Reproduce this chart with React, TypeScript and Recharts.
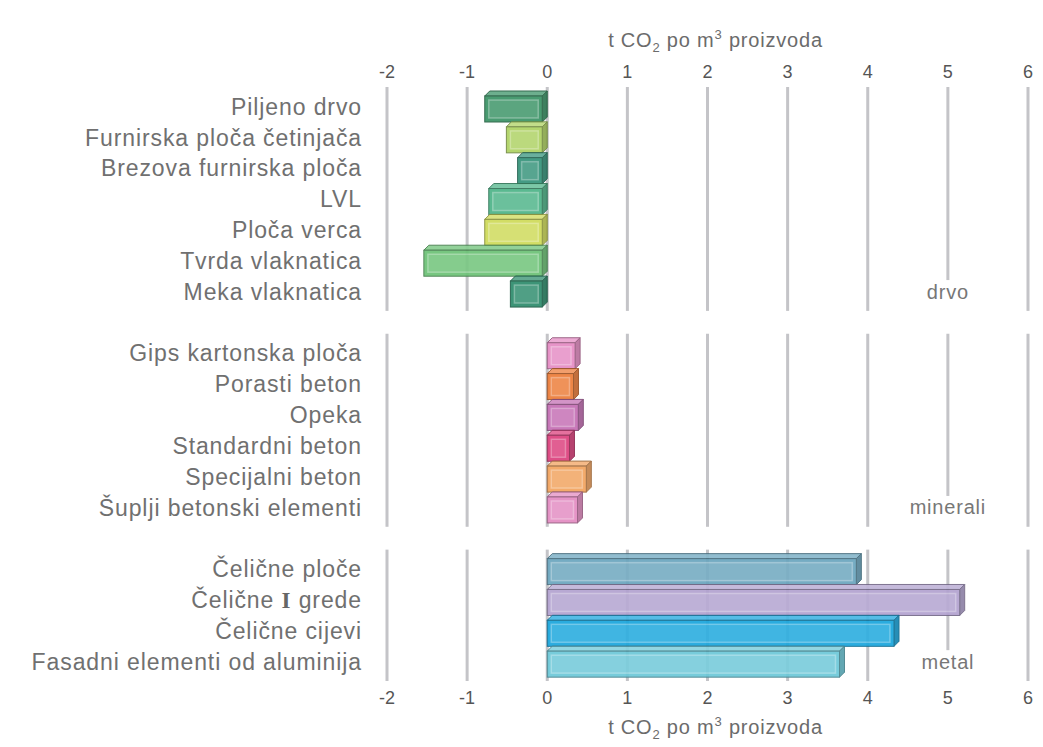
import React from "react";
import {
  ComposedChart,
  Bar,
  Line,
  XAxis,
  YAxis,
  Cell,
  Label,
  ReferenceArea,
} from "recharts";

// t CO2 po m3 proizvoda
const woodNames = [
  "Piljeno drvo",
  "Furnirska ploča četinjača",
  "Brezova furnirska ploča",
  "LVL",
  "Ploča verca",
  "Tvrda vlaknatica",
  "Meka vlaknatica",
];
const woodValues = [-0.78, -0.51, -0.37, -0.73, -0.78, -1.54, -0.46];

const mineralNames = [
  "Gips kartonska ploča",
  "Porasti beton",
  "Opeka",
  "Standardni beton",
  "Specijalni beton",
  "Šuplji betonski elementi",
];
const mineralValues = [0.41, 0.39, 0.45, 0.34, 0.55, 0.44];

const metalNames = [
  "Čelične ploče",
  "Čelične I grede",
  "Čelične cijevi",
  "Fasadni elementi od aluminija",
];
const metalValues = [3.92, 5.21, 4.39, 3.71];

const groupLabels = ["drvo", "minerali", "metal"];
const xTicks = [-2, -1, 0, 1, 2, 3, 4, 5, 6];
const labelTick = 5;

const woodColors = ["#3a9366", "#aed262", "#35937a", "#4db488", "#cfdb58", "#6cc276", "#2d8c6c"];
const mineralColors = ["#e68cc4", "#ec7c38", "#c46eb4", "#dc3f7c", "#f2a35e", "#e38cc2"];
const metalColors = ["#6aa5be", "#b2a2d0", "#19a6dd", "#6cc8d8"];

const groups = [
  { label: groupLabels[0], names: woodNames, values: woodValues, colors: woodColors },
  { label: groupLabels[1], names: mineralNames, values: mineralValues, colors: mineralColors },
  { label: groupLabels[2], names: metalNames, values: metalValues, colors: metalColors },
];

const rows: { name: string; value: number | null; color: string }[] = [];
groups.forEach((g, gi) => {
  if (gi > 0) rows.push({ name: " ".repeat(gi), value: null, color: "none" });
  g.names.forEach((n, i) => rows.push({ name: n, value: g.values[i], color: g.colors[i] }));
});

const FONT = "'Liberation Sans', Arial, sans-serif";

function mix(hex: string, target: number, t: number) {
  const n = parseInt(hex.slice(1), 16);
  const f = (c: number) => Math.round(c + (target - c) * t);
  return `rgb(${f((n >> 16) & 255)},${f((n >> 8) & 255)},${f(n & 255)})`;
}

function Box3D(props: any) {
  const { x, y, width, height, fill } = props;
  if (!width || !height || !fill || fill === "none") return null;
  const x0 = Math.min(x, x + width);
  const w = Math.abs(width);
  const d = Math.min(5, w / 2);
  const fx = x0;
  const fy = y + d;
  const fw = w - d;
  const fh = height - d;
  const edge = mix(fill, 0, 0.35);
  const top = `${fx},${fy} ${fx + d},${fy - d} ${fx + fw + d},${fy - d} ${fx + fw},${fy}`;
  const side = `${fx + fw},${fy} ${fx + fw + d},${fy - d} ${fx + fw + d},${fy + fh - d} ${fx + fw},${fy + fh}`;
  const inset = 4;
  return (
    <g opacity={0.92}>
      <polygon points={top} fill={mix(fill, 255, 0.2)} stroke={edge} strokeWidth={1} />
      <polygon points={side} fill={mix(fill, 0, 0.2)} stroke={edge} strokeWidth={1} />
      <rect x={fx} y={fy} width={fw} height={fh} fill={fill} stroke={edge} strokeWidth={1} />
      {fw > inset * 2 + 2 && (
        <rect
          x={fx + inset}
          y={fy + inset}
          width={fw - inset * 2}
          height={fh - inset * 2}
          fill="#ffffff"
          fillOpacity={0.1}
          stroke="#ffffff"
          strokeOpacity={0.3}
          strokeWidth={1.5}
        />
      )}
    </g>
  );
}

function GridSegment(props: any) {
  const { x, y, width, height } = props;
  if (x == null || y == null) return null;
  return <rect x={x + width / 2 - 1.5} y={y - 4} width={3} height={height + 8} fill="#c4c4c8" />;
}

function CategoryTick(props: any) {
  const { x, y, payload } = props;
  const v: string = payload?.value ?? "";
  if (!v.trim()) return null;
  const common = {
    x,
    y,
    dy: "0.36em",
    textAnchor: "end" as const,
    fill: "#707070",
    fontSize: 23,
    letterSpacing: 0.9,
    fontFamily: FONT,
  };
  if (v.includes(" I ")) {
    const [a, b] = v.split(" I ");
    return (
      <text {...common}>
        {a + " "}
        <tspan fontFamily="'Liberation Serif', 'DejaVu Serif', serif" fontWeight="bold" fill="#666">
          I
        </tspan>
        {" " + b}
      </text>
    );
  }
  return <text {...common}>{v}</text>;
}

function ValueTick(props: any) {
  const { x, y, payload, top } = props;
  return (
    <text
      x={x}
      y={y}
      dy={top ? -2 : 19}
      textAnchor="middle"
      fill="#555"
      fontSize={18}
      fontFamily={FONT}
    >
      {payload.value}
    </text>
  );
}

function AxisTitle(props: any) {
  const vb = props.viewBox;
  if (!vb) return null;
  return (
    <text
      x={vb.x + vb.width / 2 + 8}
      y={vb.y + props.base}
      textAnchor="middle"
      fill="#6b6b6b"
      fontSize={20}
      letterSpacing={0.8}
      fontFamily={FONT}
    >
      t CO
      <tspan fontSize={13} dy={5}>2</tspan>
      <tspan dy={-5}> po m</tspan>
      <tspan fontSize={13} dy={-8}>3</tspan>
      <tspan dy={8}> proizvoda</tspan>
    </text>
  );
}

export default function App() {
  return (
    <div style={{ width: 1027, height: 735, fontFamily: FONT, background: "#fff" }}>
      <ComposedChart
        width={1027}
        height={735}
        data={rows}
        layout="vertical"
        margin={{ top: 0, right: 7, bottom: 0, left: 0 }}
        barCategoryGap={0}
      >
        <XAxis
          xAxisId="t"
          orientation="top"
          type="number"
          domain={[-2, 6]}
          ticks={xTicks}
          height={83}
          axisLine={false}
          tickLine={false}
          tickMargin={5}
          tick={(p: any) => <ValueTick {...p} top />}
        >
          <Label content={<AxisTitle base={39} />} />
        </XAxis>
        <XAxis
          xAxisId="b"
          orientation="bottom"
          type="number"
          domain={[-2, 6]}
          ticks={xTicks}
          height={66}
          axisLine={false}
          tickLine={false}
          tickMargin={2}
          tick={(p: any) => <ValueTick {...p} />}
        >
          <Label content={<AxisTitle base={57} />} />
        </XAxis>
        <YAxis
          type="category"
          dataKey="name"
          width={379}
          axisLine={false}
          tickLine={false}
          tickMargin={19}
          interval={0}
          tick={(p: any) => <CategoryTick {...p} />}
        />
        {groups.flatMap((g, gi) =>
          xTicks.map((t) => (
            <ReferenceArea
              key={`g${gi}-${t}`}
              xAxisId="b"
              x1={t - 0.01}
              x2={t + 0.01}
              y1={g.names[0]}
              y2={t === labelTick ? g.names[g.names.length - 2] : g.names[g.names.length - 1]}
              ifOverflow="visible"
              shape={(p: any) => <GridSegment {...p} />}
            />
          ))
        )}
        {groups.map((g, gi) => (
          <ReferenceArea
            key={`lab${gi}`}
            xAxisId="b"
            x1={labelTick - 0.5}
            x2={labelTick + 0.5}
            y1={g.names[g.names.length - 1]}
            y2={g.names[g.names.length - 1]}
            ifOverflow="visible"
            fill="none"
            fillOpacity={0}
            stroke="none"
            label={{
              value: g.label,
              position: "center",
              fill: "#777",
              fontSize: 20,
              letterSpacing: 0.8,
              fontFamily: FONT,
            }}
          />
        ))}
        <Bar
          xAxisId="b"
          dataKey="value"
          isAnimationActive={false}
          shape={(p: any) => <Box3D {...p} />}
        >
          {rows.map((r, i) => (
            <Cell key={i} fill={r.color} />
          ))}
        </Bar>
        <Line
          xAxisId="t"
          dataKey="value"
          stroke="none"
          dot={false}
          activeDot={false}
          legendType="none"
          isAnimationActive={false}
        />
      </ComposedChart>
    </div>
  );
}
